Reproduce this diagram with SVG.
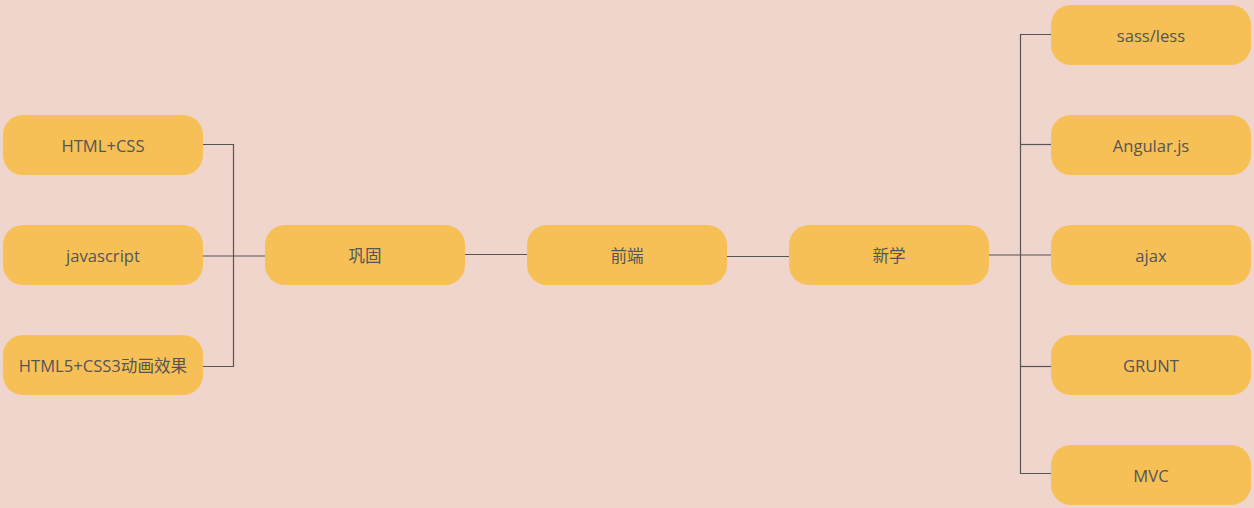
<svg xmlns="http://www.w3.org/2000/svg" width="1254" height="508" viewBox="0 0 1254 508">
<style>
.bg{fill:#EFD5CC}
.n rect{fill:#F7C056}
.n text{font-family:"Open Sans","Noto Sans","Noto Sans CJK SC",sans-serif;font-size:16.6px;fill:#555555;text-anchor:middle;dominant-baseline:central}
.c{fill:none;stroke:#555555;stroke-width:1.2}
</style>
<rect class="bg" x="0" y="0" width="1254" height="508"/>
<g id="connectors">
<path class="c" d="M203 144.5H233.5V366.5H203"/>
<path class="c" d="M203 256H265"/>
<path class="c" d="M465 254.5H527"/>
<path class="c" d="M727 256.5H789"/>
<path class="c" d="M989 255H1051"/>
<path class="c" d="M1051 34.5H1020.5V473.5H1051"/>
<path class="c" d="M1020.5 144.5H1051"/>
<path class="c" d="M1020.5 366.5H1051"/>
</g>
<g id="n-htmlcss" class="n"><rect x="3" y="115" width="200" height="60" rx="20"/><text x="103" y="145">HTML+CSS</text></g>
<g id="n-js" class="n"><rect x="3" y="225" width="200" height="60" rx="20"/><text x="103" y="255">javascript</text></g>
<g id="n-html5" class="n"><rect x="3" y="335" width="200" height="60" rx="20"/><text x="103" y="365">HTML5+CSS3动画效果</text></g>
<g id="n-gonggu" class="n"><rect x="265" y="225" width="200" height="60" rx="20"/><text x="365" y="255">巩固</text></g>
<g id="n-qianduan" class="n"><rect x="527" y="225" width="200" height="60" rx="20"/><text x="627" y="255">前端</text></g>
<g id="n-xinxue" class="n"><rect x="789" y="225" width="200" height="60" rx="20"/><text x="889" y="255">新学</text></g>
<g id="n-sass" class="n"><rect x="1051" y="5" width="200" height="60" rx="20"/><text x="1151" y="35">sass/less</text></g>
<g id="n-angular" class="n"><rect x="1051" y="115" width="200" height="60" rx="20"/><text x="1151" y="145">Angular.js</text></g>
<g id="n-ajax" class="n"><rect x="1051" y="225" width="200" height="60" rx="20"/><text x="1151" y="255">ajax</text></g>
<g id="n-grunt" class="n"><rect x="1051" y="335" width="200" height="60" rx="20"/><text x="1151" y="365">GRUNT</text></g>
<g id="n-mvc" class="n"><rect x="1051" y="445" width="200" height="60" rx="20"/><text x="1151" y="475">MVC</text></g>
</svg>
